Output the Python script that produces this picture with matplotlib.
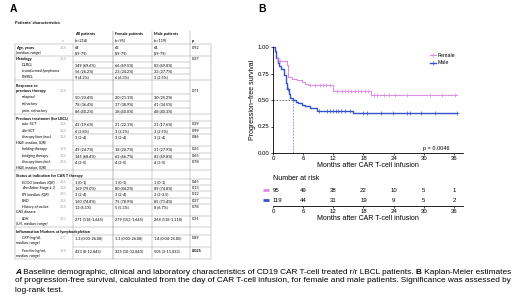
import matplotlib
matplotlib.use('Agg')
import matplotlib.pyplot as plt
from matplotlib.lines import Line2D
import numpy as np

plt.rcParams['font.family'] = ['Liberation Sans', 'DejaVu Sans']

# ---------------- data: panel A table ----------------
col_heads = ['All patients', 'Female patients', 'Male patients']
col_ns = ['(n=214)', '(n=95)', '(n=119)']
row_labels = ['Age, years\n(median, range)', 'Histology',
              'DLBCL', 'transformed lymphoma', 'PMBCL',
              'Response to\nprevious therapy',
              'relapsed', 'refractory', 'prim. refractory',
              'Previous treatment (for LBCL)',
              'auto-SCT', 'allo-SCT', 'therapy lines (excl.\nH&B, median, IQR)',
              'holding therapy', 'bridging therapy', 'therapy lines (incl.\nH&B, median, IQR)',
              'Status at indication for CAR T therapy',
              'ECOG (median, IQR)', 'Ann Arbor Stage \u2265 3', 'IPI (median, IQR)', 'END',
              'History of active\nCNS disease', 'LDH\n(U/l, median, range)',
              'Inflammation Markers at lymphodepletion',
              'CRP (mg/dl,\nmedian, range)', 'Ferritin (ng/ml,\nmedian, range)']
row_kind = ['a', 'h', 's', 's', 's', 'h', 's', 's', 's', 'h',
            's', 's', 's', 's', 's', 's', 'h', 's', 's', 's', 's', 's', 's', 'h', 's', 's']
row_n = ['214', '214', '', '', '', '214', '', '', '', '',
         '214', '214', '214', '198', '212', '214', '', '214', '214', '210', '214', '214', '200', '',
         '207', '198']
all_vals = ['64\n(19-79)', '', '149 (69.6%)', '56 (26.2%)', '9 (4.2%)', '',
            '50 (23.4%)', '78 (36.4%)', '86 (40.2%)', '',
            '42 (19.6%)', '6 (2.8%)', '3 (2-4)', '49 (24.7%)', '145 (68.4%)', '4 (3-5)', '',
            '1 (0-1)', '169 (79.0%)', '3 (2-4)', '160 (74.8%)', '13 (6.1%)', '271 (118-1,645)', '',
            '1.3 (0.03-26.08)', '423 (8-12,843)']
female_vals = ['63\n(19-79)', '', '66 (69.5%)', '23 (24.2%)', '6 (6.3%)', '',
               '20 (21.1%)', '37 (38.9%)', '38 (40.0%)', '',
               '21 (22.1%)', '3 (3.2%)', '3 (2-4)', '18 (20.7%)', '62 (66.7%)', '4 (3-5)', '',
               '1 (0-1)', '80 (84.2%)', '3 (2-4)', '75 (78.9%)', '5 (5.3%)', '279 (152-1,645)', '',
               '1.1 (0.03-26.08)', '325 (10-12,843)']
male_vals = ['64\n(19-79)', '', '83 (69.8%)', '33 (27.7%)', '3 (2.5%)', '',
             '30 (25.2%)', '41 (34.5%)', '48 (40.3%)', '',
             '21 (17.6%)', '3 (2.5%)', '3 (2-4)', '31 (27.9%)', '83 (69.8%)', '4 (3-5)', '',
             '1 (0-1)', '89 (74.8%)', '2 (2-3.5)', '85 (71.4%)', '8 (6.7%)', '268 (118-1,118)', '',
             '1.4 (0.04-25.80)', '505 (3-11,033)']
p_vals = ['0.92', '0.37', '', '', '', '0.71', '', '', '', '',
          '0.39', '0.99', '0.86', '0.25', '0.65', '0.78', '',
          '0.45', '0.13', '0.12', '0.27', '0.78', '0.31', '', '0.89', '0.025']

# ---------------- data: panel B Kaplan-Meier ----------------
female_t = [0, 0.3, 0.6, 1.0, 2.7, 3.0, 3.7, 4.7, 5.7, 6.4, 7.0, 12.0, 19.4]
female_s = [1.0, 0.95, 0.90, 0.87, 0.83, 0.72, 0.70, 0.685, 0.67, 0.65, 0.64, 0.585, 0.55]
female_cens = [0.9, 1.3, 7.3, 8.3, 9.3, 10.0, 10.6, 11.3, 12.7, 13.7, 14.3, 15.0, 15.6,
               16.3, 16.9, 17.6, 18.3, 18.9, 20.0, 20.6, 22.0, 23.0, 24.3, 26.6, 31.2, 33.6, 36.2]
male_t = [0, 0.3, 0.6, 0.9, 1.2, 1.5, 2.1, 2.5, 2.8, 3.1, 3.4, 4.0, 4.5, 5.0, 5.7, 6.4, 7.3, 8.7, 16.0]
male_s = [1.0, 0.96, 0.90, 0.85, 0.82, 0.79, 0.74, 0.66, 0.60, 0.56, 0.52, 0.50, 0.485, 0.47,
          0.455, 0.44, 0.42, 0.40, 0.375]
male_cens = [2.9, 9.1, 10.7, 11.3, 12.0, 12.5, 13.0, 13.6, 14.4, 15.3, 18.0, 18.7, 21.5,
             23.8, 26.6, 27.2, 29.5, 32.2, 36.6]
follow_end = 36.6
risk_times = [0, 6, 12, 18, 24, 30, 36]
female_risk = [95, 49, 38, 22, 10, 5, 1]
male_risk = [119, 44, 31, 19, 9, 5, 2]
p_text = 'p = 0.0046'

c_f = '#DA8FE2'
c_m = '#3652CF'

W, H = 520, 306
fig = plt.figure(figsize=(W / 100, H / 100), dpi=100)
bg = fig.add_axes([0, 0, 1, 1])
bg.set_xlim(0, W)
bg.set_ylim(H, 0)
bg.axis('off')


def rect(x0, y0, x1, y1):
    return [x0 / W, 1 - y1 / H, (x1 - x0) / W, (y1 - y0) / H]


# ---------------- panel A ----------------
bg.text(10, 9, 'A', fontsize=7.5, weight='bold', va='center')
tf = ['Lato', 'DejaVu Sans']
fs = 2.8
bg.text(15, 23, "Patients' characteristics", fontsize=3.1, weight='bold', va='center', family=tf)

col_x = [75, 115, 154]
for x, h, n in zip(col_x, col_heads, col_ns):
    bg.text(x, 34, h, fontsize=fs, weight='bold', va='center', family=tf)
    bg.text(x, 40.5, n, fontsize=fs, va='center', family=tf)
bg.text(192, 41, 'p', fontsize=fs, weight='bold', va='center', family=tf)
bg.text(63, 41, 'n', fontsize=fs, va='center', ha='center', color='#aaaaaa', family=tf)

row_y = [48, 59, 65, 71, 77, 86, 97, 104, 111, 118, 124, 131, 137, 149, 156, 162,
         176, 182, 188, 194, 201, 207, 219, 232, 238, 251]
dy = 5.3
for i, lab in enumerate(row_labels):
    y = row_y[i]
    parts = lab.split('\n')
    k = row_kind[i]
    for j, part in enumerate(parts):
        if k == 'h':
            bg.text(16, y + j * dy, part, fontsize=fs, weight='bold', va='center', family=tf)
        elif k == 'a':
            bg.text(16, y + j * dy, part, fontsize=fs, weight='bold' if j == 0 else 'normal',
                    style='normal' if j == 0 else 'italic', va='center', family=tf)
        else:
            bg.text(22 if j == 0 else 16, y + j * dy, part, fontsize=fs, style='italic',
                    va='center', family=tf)
    if row_n[i]:
        bg.text(63, y + (dy if i == 5 else 0), row_n[i], fontsize=fs, ha='center', va='center',
                color='#aaaaaa', family=tf)
    for x, vals in zip(col_x, [all_vals, female_vals, male_vals]):
        for j, part in enumerate(vals[i].split('\n')):
            if part:
                bg.text(x, y + j * dy, part, fontsize=fs, va='center', family=tf)
    if p_vals[i]:
        bg.text(192, y + (dy if i == 5 else 0), p_vals[i], fontsize=fs, va='center',
                weight='bold' if p_vals[i] == '0.025' else 'normal', family=tf)

lc, lw = '#a0a0a0', 0.35
for y in [44, 56, 80, 114, 170, 227, 259]:
    bg.plot([15, 211], [y, y], color=lc, lw=lw)
for y in [62, 68, 74, 94, 100.5, 107.5]:
    bg.plot([73, 190], [y, y], color=lc, lw=lw)
for y in [121, 127.5, 134, 145.5, 152.5, 159, 179, 185, 191, 197.5, 204, 216, 235, 247]:
    bg.plot([73, 211], [y, y], color=lc, lw=lw)
for x in [15, 73, 211]:
    bg.plot([x, x], [44, 259], color=lc, lw=lw)
for x in [113, 152, 190]:
    bg.plot([x, x], [31, 259], color='#707070' if x == 113 else lc, lw=lw)

# ---------------- panel B ----------------
bg.text(258, 9, 'B', fontsize=7.5, weight='bold', va='center')
xmax = 37.8
ax = fig.add_axes(rect(273, 47, 463, 153))
ax.set_xlim(0, xmax)
ax.set_ylim(0, 1)


def steps(t, s):
    return np.append(t, follow_end), np.append(s, s[-1])


def surv_at(t, s, x):
    idx = np.searchsorted(t, x, side='right') - 1
    return np.asarray(s)[idx]


ft, fsv = steps(female_t, female_s)
mt, msv = steps(male_t, male_s)
ax.step(ft, fsv, where='post', color=c_f, lw=0.8, clip_on=False)
ax.step(mt, msv, where='post', color=c_m, lw=1.0, clip_on=False)
ax.plot(female_cens, surv_at(female_t, female_s, female_cens), '+', color=c_f, ms=2.2, mew=0.5,
        clip_on=False)
ax.plot(male_cens, surv_at(male_t, male_s, male_cens), '+', color=c_m, ms=2.2, mew=0.5,
        clip_on=False)

male_median = male_t[int(np.argmax(np.array(male_s) <= 0.5))]
ax.plot([0, male_median], [0.5, 0.5], color='#555555', lw=0.6, ls=(0, (2, 1.6)))
ax.plot([male_median, male_median], [0, 0.5], color='#7585DA', lw=0.6, ls=(0, (2, 1.6)))

for sp in ['top', 'right']:
    ax.spines[sp].set_visible(False)
for sp in ['left', 'bottom']:
    ax.spines[sp].set_linewidth(0.6)
ax.set_xticks(risk_times)
ax.set_yticks([0, 0.25, 0.5, 0.75, 1.0])
ax.set_yticklabels(['0.00', '0.25', '0.50', '0.75', '1.00'])
ax.tick_params(labelsize=4.3, length=1.5, width=0.5, pad=1)
ax.set_xlabel('Months after CAR T-cell infusion', fontsize=5, labelpad=0.5)
ax.set_ylabel('Progression\u2212free survival', fontsize=5, labelpad=1.5)
ax.text(29.8, 0.04, p_text, fontsize=4, va='center')

handles = [Line2D([], [], color=c_f, lw=0.8, marker='+', ms=2.2, mew=0.5),
           Line2D([], [], color=c_m, lw=1.0, marker='+', ms=2.2, mew=0.5)]
ax.legend(handles, ['Female', 'Male'], loc='upper left', bbox_to_anchor=(0.81, 0.97),
          frameon=False, fontsize=3.8, handlelength=1.2, handletextpad=0.4,
          labelspacing=0.5, borderpad=0)

# risk table
bg.text(273, 178, 'Number at risk', fontsize=5, va='center')
rt = fig.add_axes(rect(273, 184, 463, 206))
rt.set_xlim(0, xmax)
rt.set_ylim(0, 22)
for row_y_rt, vals, c in [(16, female_risk, c_f), (6, male_risk, c_m)]:
    for k, (t, v) in enumerate(zip(risk_times, vals)):
        rt.text(t, row_y_rt, str(v), fontsize=4.3, va='center', ha='left' if k == 0 else 'center')
    rt.plot([-2.0, -0.8], [row_y_rt, row_y_rt], color=c, lw=2.0, clip_on=False,
            solid_capstyle='butt')
for sp in ['top', 'right', 'left']:
    rt.spines[sp].set_visible(False)
rt.spines['bottom'].set_linewidth(0.6)
rt.set_yticks([])
rt.set_xticks(risk_times)
rt.tick_params(labelsize=4.3, length=1.5, width=0.5, pad=1)
rt.set_xlabel('Months after CAR T-cell infusion', fontsize=5, labelpad=0.5)

# ---------------- caption ----------------
renderer = fig.canvas.get_renderer()
cap_fs = 5.2
line1 = [('A', 'bold', 'italic'),
         (' Baseline demographic, clinical and laboratory characteristics of CD19 CAR T-cell '
          'treated r/r LBCL patients. ', 'normal', 'normal'),
         ('B', 'bold', 'normal'), (' Kaplan-Meier estimates', 'normal', 'normal')]
line2 = ('of progression-free survival, calculated from the day of CAR T-cell infusion, for female '
         'and male patients. Significance was assessed by')
line3 = 'log-rank test.'

t2 = bg.text(15, 281, line2, fontsize=cap_fs, va='center')
w2 = t2.get_window_extent(renderer).width
cap_fs = cap_fs * 493 / w2
t2.set_fontsize(cap_fs)
bg.text(15, 290, line3, fontsize=cap_fs, va='center')
x = 15
for txt, wt, st in line1:
    t = bg.text(x, 272, txt, fontsize=cap_fs, weight=wt, style=st, va='center')
    x += t.get_window_extent(renderer).width

fig.savefig('out.png', dpi=100)
